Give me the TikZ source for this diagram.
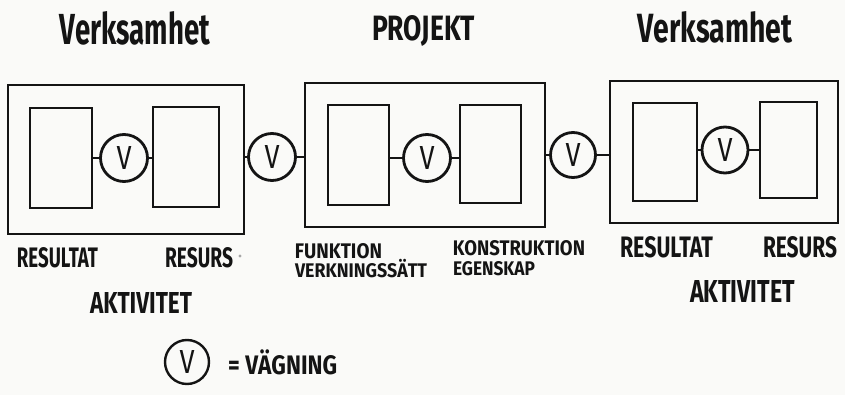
\documentclass[tikz,border=0pt]{standalone}
\usepackage{fontspec}
\setmainfont{Fira Sans}
\usepackage{graphicx}
\definecolor{ink}{RGB}{20,20,20}
\definecolor{paper}{RGB}{250,250,248}
% text squeezed to a given width and cap height, like hand lettering
\newcommand{\handtext}[3]{\resizebox{#1}{#2}{#3}}
\tikzset{
  ink/.style={draw=ink, line width=2.8pt},
  outerbox/.style={ink, rectangle, inner sep=0pt},
  innerbox/.style={ink, rectangle, inner sep=0pt},
  weigh/.style={ink, circle, inner sep=0pt, minimum size=47pt, text=ink},
  title/.style={inner sep=0pt, text=ink, font=\bfseries},
  label/.style={inner sep=0pt, text=ink, font=\bfseries},
  wire/.style={ink, line cap=butt},
}
\newcommand{\vmark}{\handtext{15pt}{23pt}{V}}
\begin{document}
\begin{tikzpicture}[x=1pt,y=-1pt]
  \fill[paper] (0,0) rectangle (845,395);
  \useasboundingbox (0,0) rectangle (845,395);

  % headings
  \node[title] (t1) at (135,28.5) {\handtext{150pt}{33pt}{Verksamhet}};
  \node[title] (t2) at (423.5,30.5) {\handtext{103pt}{25pt}{PROJEKT}};
  \node[title] (t3) at (715,27.5) {\handtext{154pt}{31pt}{Verksamhet}};

  % left activity
  \node[outerbox, minimum width=236pt, minimum height=149pt] (oL) at (126,159.5) {};
  \node[innerbox, minimum width=62pt, minimum height=100pt] (b1) at (61,158) {};
  \node[weigh] (v1) at (124,158) {\vmark};
  \node[innerbox, minimum width=66pt, minimum height=100pt] (b2) at (186,157) {};

  % project
  \node[weigh] (v2) at (272,157) {\vmark};
  \node[outerbox, minimum width=240pt, minimum height=144pt] (oM) at (425,155) {};
  \node[innerbox, minimum width=61pt, minimum height=100pt] (b3) at (358.5,155) {};
  \node[weigh] (v3) at (427,158) {\vmark};
  \node[innerbox, minimum width=61pt, minimum height=98pt] (b4) at (490.5,154) {};

  % right activity
  \node[weigh, minimum size=45pt] (v4) at (573,155) {\vmark};
  \node[outerbox, minimum width=228pt, minimum height=142pt] (oR) at (724,152) {};
  \node[innerbox, minimum width=64pt, minimum height=98pt] (b5) at (665,152) {};
  \node[weigh, minimum size=46pt] (v5) at (725,150) {\vmark};
  \node[innerbox, minimum width=57pt, minimum height=96pt] (b6) at (788.5,150) {};

  % short links into the weighing circles
  \draw[wire] (v1.west) -- (v1.west -| b1.east);
  \draw[wire] (v1.east) -- (v1.east -| b2.west);
  \draw[wire] (v2.west) -- (v2.west -| oL.east);
  \draw[wire] (v2.east) -- (v2.east -| oM.west);
  \draw[wire] (v3.west) -- (v3.west -| b3.east);
  \draw[wire] (v3.east) -- (v3.east -| b4.west);
  \draw[wire] (v4.west) -- (v4.west -| oM.east);
  \draw[wire] (v4.east) -- (v4.east -| oR.west);
  \draw[wire] (v5.west) -- (v5.west -| b5.east);
  \draw[wire] (v5.east) -- (v5.east -| b6.west);

  % captions under the boxes
  \node[label] (l1) at (57.5,258) {\handtext{81pt}{20pt}{RESULTAT}};
  \node[label] (l2) at (199,258) {\handtext{68pt}{20pt}{RESURS}};
  \fill[black!35] (240,256) circle (1.6pt);
  \node[label] (l3) at (141,302.5) {\handtext{102pt}{21pt}{AKTIVITET}};
  \node[label] (l4) at (338.5,251.5) {\handtext{87pt}{15pt}{FUNKTION}};
  \node[label] (l5) at (361,271) {\handtext{132pt}{14pt}{VERKNINGSS\smash{Ä}TT}};
  \node[label] (l6) at (519,248.5) {\handtext{132pt}{15pt}{KONSTRUKTION}};
  \node[label] (l7) at (494,268.5) {\handtext{82pt}{14pt}{EGENSKAP}};
  \node[label] (l8) at (666.5,247.5) {\handtext{93pt}{21pt}{RESULTAT}};
  \node[label] (l9) at (800,247.5) {\handtext{74pt}{21pt}{RESURS}};
  \node[label] (l10) at (742.5,291) {\handtext{105pt}{22pt}{AKTIVITET}};

  % legend
  \node[weigh, minimum size=44pt, line width=2.4pt] (key) at (187,362) {\vmark};
  \node[label, anchor=west] (keytext) at (228,365) {\handtext{109pt}{19pt}{= V\smash{Ä}GNING}};
\end{tikzpicture}
\end{document}
